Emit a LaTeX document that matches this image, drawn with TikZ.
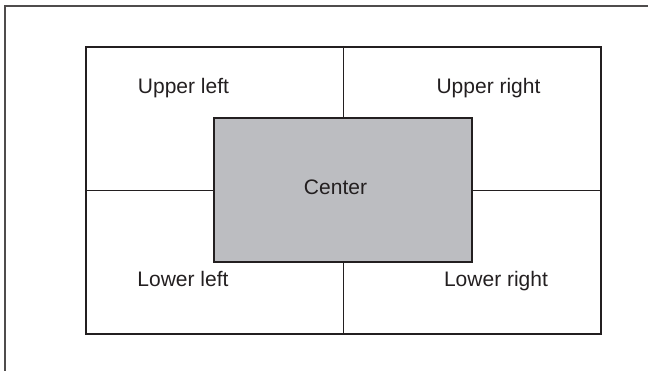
\documentclass[tikz,border=0pt]{standalone}
\usepackage{fontspec}
\setmainfont{Liberation Sans}
\definecolor{centergray}{HTML}{BCBDC1}
\definecolor{inkgray}{HTML}{231F20}

\begin{document}
\begin{tikzpicture}[x=1pt, y=-1pt,
    region/.style={anchor=base, text=inkgray, font=\fontsize{21}{25}\selectfont},
    outerbox/.style={draw=inkgray, line width=2.4pt, minimum width=515pt, minimum height=287pt, inner sep=0pt},
    centerbox/.style={draw=inkgray, fill=centergray, line width=1.5pt, minimum width=258pt, minimum height=144pt, inner sep=0pt},
    divider/.style={draw=inkgray, line width=0.9pt}]
    \useasboundingbox (0,0) rectangle (648,371);
    \draw[inkgray!80, line width=1.2pt] (5,371) -- (5,6) -- (648,6);
    \node[outerbox] (frame) at (343.5,190.5) {};
    \draw[divider] (frame.north) -- (frame.south);
    \draw[divider] (frame.west) -- (frame.east);
    \node[centerbox] (middle) at (343,190) {};
    \node[region] (ul) at (183.5,94) {Upper left};
    \node[region] (ur) at (488.5,94) {Upper right};
    \node[region] (c) at (335.5,195) {Center};
    \node[region] (ll) at (183,287) {Lower left};
    \node[region] (lr) at (496,287) {Lower right};
\end{tikzpicture}
\end{document}
